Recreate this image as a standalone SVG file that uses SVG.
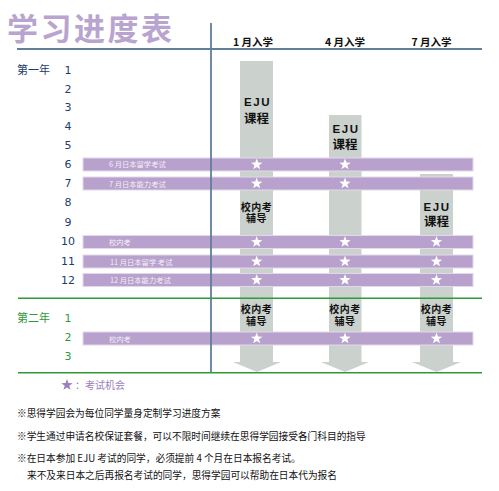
<svg xmlns="http://www.w3.org/2000/svg" xmlns:xlink="http://www.w3.org/1999/xlink" width="499" height="491" viewBox="0 0 499 491">
<style>
text{font-family:"Noto Sans CJK SC","Liberation Sans",sans-serif;}
.title{font-size:31px;font-weight:bold;fill:#b9a4d0;letter-spacing:2.5px;}
.hdr{font-size:10.5px;font-weight:bold;fill:#111;}
.y1{font-size:11px;fill:#1d3c6c;}
.y2{font-size:11px;fill:#2e9a3a;}
.num{font-family:"DejaVu Sans","Liberation Sans",sans-serif;font-size:11px;text-anchor:middle;}
.bar{fill:#b8a1cc;stroke:#e2d8eb;stroke-width:1;}
.bt{font-size:7.3px;fill:#f4eff8;}
.col{fill:#cbd2cd;}
.ct{font-size:12.5px;font-weight:bold;fill:#111;text-anchor:middle;}
.ce{font-family:"Liberation Sans","DejaVu Sans",sans-serif;font-size:11.5px;font-weight:bold;fill:#111;text-anchor:middle;letter-spacing:1.5px;}
.cs{font-size:10px;font-weight:bold;fill:#111;text-anchor:middle;letter-spacing:0.5px;}
.foot{font-size:9.7px;fill:#111;}
.axis{stroke:#5f7f9a;stroke-width:1.8;fill:none;}
.green{stroke:#2e9a3a;stroke-width:1.5;fill:none;}
</style>
<defs>
<path id="star" d="M0,-6 L1.41,-1.94 L5.71,-1.85 L2.28,0.74 L3.53,4.85 L0,2.4 L-3.53,4.85 L-2.28,0.74 L-5.71,-1.85 L-1.41,-1.94 Z"/>
</defs>
<rect width="499" height="491" fill="#fff"/>
<g id="title"><text class="title" x="7" y="40">学习进度表</text></g>

<g id="columns">
<g id="col1"><rect class="col" x="240" y="61" width="33" height="301"/><polygon class="col" points="233,362 281,362 257,372"/></g>
<g id="col2"><rect class="col" x="329" y="115" width="32.5" height="247"/><polygon class="col" points="321,362 369,362 345,372"/></g>
<g id="col3"><rect class="col" x="420" y="174" width="33" height="188"/><polygon class="col" points="412,362 461,362 436.5,372"/></g>
</g>

<g id="column-texts">
<text class="ce" x="257.5" y="105.5">EJU</text><text class="ct" x="256.5" y="122.5">课程</text>
<text class="ce" x="346" y="133">EJU</text><text class="ct" x="345" y="148.5">课程</text>
<text class="ce" x="437" y="211">EJU</text><text class="ct" x="436.5" y="225.5">课程</text>
<text class="cs" x="256.5" y="211">校内考<tspan x="256.5" dy="11">辅导</tspan></text>
<text class="cs" x="256.5" y="313">校内考<tspan x="256.5" dy="12">辅导</tspan></text>
<text class="cs" x="345" y="313">校内考<tspan x="345" dy="12">辅导</tspan></text>
<text class="cs" x="436.5" y="313">校内考<tspan x="436.5" dy="12">辅导</tspan></text>
</g>

<g id="bars">
<g id="bar6"><rect class="bar" x="83" y="158" width="390" height="13"/><text class="bt" x="109" y="167">6 月日本留学考试</text></g>
<g id="bar7"><rect class="bar" x="83" y="177" width="390" height="13"/><text class="bt" x="109" y="186.5">7 月日本能力考试</text></g>
<g id="bar10"><rect class="bar" x="83" y="235.5" width="390" height="13"/><text class="bt" x="109" y="245">校内考</text></g>
<g id="bar11"><rect class="bar" x="83" y="255" width="390" height="13"/><text class="bt" x="110" y="264.5">11 月日本留学 考试</text></g>
<g id="bar12"><rect class="bar" x="83" y="273.5" width="390" height="13"/><text class="bt" x="110" y="283">12 月日本能力考试</text></g>
<g id="bar-y2-2"><rect class="bar" x="83" y="332" width="390" height="13"/><text class="bt" x="109" y="341.5">校内考</text></g>
</g>

<g id="stars" fill="#fff">
<use xlink:href="#star" x="256.7" y="164.5"/><use xlink:href="#star" x="345" y="164.5"/>
<use xlink:href="#star" x="256.7" y="183.5"/><use xlink:href="#star" x="345" y="183.5"/>
<use xlink:href="#star" x="256.7" y="242"/><use xlink:href="#star" x="345" y="242"/><use xlink:href="#star" x="436.5" y="242"/>
<use xlink:href="#star" x="256.7" y="261.5"/><use xlink:href="#star" x="345" y="261.5"/><use xlink:href="#star" x="436.5" y="261.5"/>
<use xlink:href="#star" x="256.7" y="280"/><use xlink:href="#star" x="345" y="280"/><use xlink:href="#star" x="436.5" y="280"/>
<use xlink:href="#star" x="256.7" y="338.5"/><use xlink:href="#star" x="345" y="338.5"/><use xlink:href="#star" x="436.5" y="338.5"/>
</g>

<g id="connectors">
<line class="axis" x1="17" y1="49" x2="482" y2="49"/>
<line class="axis" x1="211" y1="23" x2="211" y2="373"/>
<line class="green" x1="18" y1="298.3" x2="482" y2="298.3"/>
<line class="green" x1="18" y1="372.7" x2="482" y2="372.7"/>
</g>

<g id="headers">
<text class="hdr" x="233" y="45.5">1 月入学</text>
<text class="hdr" x="325" y="45.5">4 月入学</text>
<text class="hdr" x="411.5" y="45.5">7 月入学</text>
</g>

<g id="year1">
<text class="y1" x="17" y="74">第一年</text>
<g class="y1">
<text class="num" x="68" y="74">1</text>
<text class="num" x="68" y="92.5">2</text>
<text class="num" x="68" y="111">3</text>
<text class="num" x="68" y="130">4</text>
<text class="num" x="68" y="149">5</text>
<text class="num" x="68" y="168">6</text>
<text class="num" x="68" y="187">7</text>
<text class="num" x="68" y="206">8</text>
<text class="num" x="68" y="225.5">9</text>
<text class="num" x="68" y="245">10</text>
<text class="num" x="68" y="265">11</text>
<text class="num" x="68" y="284">12</text>
</g>
</g>

<g id="year2">
<text class="y2" x="17" y="322">第二年</text>
<g class="y2">
<text class="num" x="68" y="322">1</text>
<text class="num" x="68" y="341">2</text>
<text class="num" x="68" y="359.5">3</text>
</g>
</g>

<g id="legend">
<use xlink:href="#star" x="67" y="385" fill="#9b80bb"/>
<text x="75" y="389" font-size="10px" fill="#9b80bb">：考试机会</text>
</g>

<g id="footer">
<text class="foot" x="17" y="417">※思得学园会为每位同学量身定制学习进度方案</text>
<text class="foot" x="17" y="440">※学生通过申请名校保证套餐，可以不限时间继续在思得学园接受各门科目的指导</text>
<text class="foot" x="17" y="461.5">※在日本参加 EJU 考试的同学，必须提前 4 个月在日本报名考试。</text>
<text class="foot" x="27" y="479">来不及来日本之后再报名考试的同学，思得学园可以帮助在日本代为报名</text>
</g>
</svg>
